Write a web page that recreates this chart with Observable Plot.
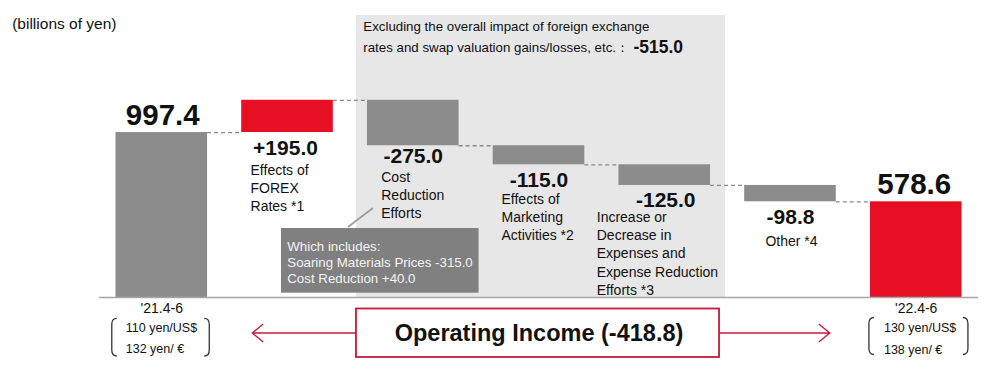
<!DOCTYPE html>
<html><head><meta charset="utf-8">
<script src="https://cdn.jsdelivr.net/npm/d3@7"></script>
<script src="https://cdn.jsdelivr.net/npm/@observablehq/plot@0.6"></script>
<style>
html,body{margin:0;padding:0;background:#fff;}
#chart{width:1005px;height:370px;}
</style></head><body><div id="chart"></div>
<script>
// ---------- data ----------
const steps = ["start", "forex", "cost", "marketing", "expenses", "other", "end"];
const startValue = 997.4;
const changes = [195.0, -275.0, -115.0, -125.0, -98.8];
const endValue = 578.6;
const valueLabels = ["997.4", "+195.0", "-275.0", "-115.0", "-125.0", "-98.8", "578.6"];
const descriptions = ["", "Effects of\nFOREX\nRates *1", "Cost\nReduction\nEfforts", "Effects of\nMarketing\nActivities *2",
  "Increase or\nDecrease in\nExpenses and\nExpense Reduction\nEfforts *3", "Other *4", ""];
const periods = ["'21.4-6", "'22.4-6"];
const fxRates = ["110 yen/US$\n132 yen/ €", "130 yen/US$\n138 yen/ €"];
const excludingNote = "Excluding the overall impact of foreign exchange\nrates and swap valuation gains/losses, etc.：";
const excludingValue = "-515.0";
const costBreakdown = "Which includes:\nSoaring Materials Prices -315.0\nCost Reduction +40.0";
const operatingIncomeLabel = "Operating Income (-418.8)";
const unitLabel = "(billions of yen)";

// ---------- layout / style ----------
const W = 1005, H = 370;
const L = {marginLeft: 99, marginRight: 27, marginTop: 0, marginBottom: 73, paddingInner: 0.2715, paddingOuter: 0.131, pxPerUnit: 0.1654};
const yMax = (H - L.marginTop - L.marginBottom) / L.pxPerUnit;
const FONT = "'Liberation Sans', Arial, Helvetica, sans-serif";
const GRAY = "#8c8c8c", RED = "#e60f23", SHADE = "#e7e7e7", INK = "#111", FRAME_RED = "#c8193c";

// ---------- waterfall table ----------
let running = startValue;
const bars = steps.map((s, i) => {
  if (i === 0) return {step: s, y1: 0, y2: startValue, total: true, fill: GRAY, label: valueLabels[i], desc: descriptions[i]};
  if (i === steps.length - 1) return {step: s, y1: 0, y2: endValue, total: true, fill: RED, label: valueLabels[i], desc: descriptions[i]};
  const c = changes[i - 1], from = running; running += c;
  return {step: s, y1: from, y2: running, total: false, fill: c > 0 ? RED : GRAY, label: valueLabels[i], desc: descriptions[i]};
});
const connectors = bars.slice(0, -1).map((b, i) => ({from: b.step, to: steps[i + 1], level: b.y2}));

const step = (W - L.marginLeft - L.marginRight) / (steps.length - L.paddingInner + 2 * L.paddingOuter);
const bw = step * (1 - L.paddingInner);

// label offsets (pixels) relative to band centre and bar end
const valueOff = {start: [1, -16.5], forex: [-2, 16], cost: [0, 11], marketing: [0, 15.7], expenses: [1, 14.6], other: [0, 15.2], end: [-2, -17.5]};
const descOff = {forex: [-37, 29.6, "start"], cost: [-32, 23.1, "start"], marketing: [-37.5, 26.1, "start"], expenses: [-68, 24.1, "start"], other: [1, 31.1, "middle"]};

const marks = [];
// shaded region
marks.push(Plot.barY(["cost"], {x: d => d, y1: 0, y2: yMax, insetTop: 15, insetLeft: -11, insetRight: -18, fill: SHADE}));
marks.push(Plot.barY(["marketing"], {x: d => d, y1: 0, y2: yMax, insetTop: 15, insetLeft: -18, insetRight: -18, fill: SHADE}));
marks.push(Plot.barY(["expenses"], {x: d => d, y1: 0, y2: yMax, insetTop: 15, insetLeft: -18, insetRight: -15, fill: SHADE}));
// bars
marks.push(Plot.barY(bars, {x: "step", y1: "y1", y2: "y2", fill: "fill"}));
// connectors
marks.push(Plot.ruleY(connectors, {x1: "from", x2: "to", y: "level", insetLeft: bw, insetRight: bw, stroke: "#8a8a8a", strokeWidth: 1.3, strokeDasharray: "4,3"}));
// baseline
marks.push(Plot.ruleY([0], {stroke: "#a6a6a6", strokeWidth: 1.6}));

// value labels
for (const b of bars) {
  const [dx, dy] = valueOff[b.step];
  marks.push(Plot.text([b], {x: "step", y: d => d.total ? d.y2 : Math.min(d.y1, d.y2), text: "label", dx, dy, lineAnchor: "middle",
    fontSize: b.total ? 29.5 : 21, fontWeight: "bold", fill: INK}));
  if (b.desc) {
    const [ddx, ddy, anchor] = descOff[b.step];
    marks.push(Plot.text([b], {x: "step", y: d => Math.min(d.y1, d.y2), text: "desc", dx: ddx, dy: ddy, textAnchor: anchor, lineAnchor: "top",
      lineHeight: 1.29, fontSize: 14, fill: INK}));
  }
}
// period labels and fx rates
marks.push(Plot.text([periods[0]], {x: () => "start", frameAnchor: "bottom", dy: 11, lineAnchor: "middle", fontSize: 14, fill: INK}));
marks.push(Plot.text([periods[1]], {x: () => "end", frameAnchor: "bottom", dy: 11, lineAnchor: "middle", fontSize: 14, fill: INK}));
marks.push(Plot.text([fxRates[0]], {x: () => "start", frameAnchor: "bottom", dx: -36, dy: 18.8, textAnchor: "start", lineAnchor: "top", lineHeight: 1.73, fontSize: 12.5, fill: INK}));
marks.push(Plot.text([fxRates[1]], {x: () => "end", frameAnchor: "bottom", dx: -32.3, dy: 19.4, textAnchor: "start", lineAnchor: "top", lineHeight: 1.73, fontSize: 12.5, fill: INK}));
// shaded note
marks.push(Plot.text([excludingNote], {x: () => "cost", frameAnchor: "top", dx: -50, dy: 15.1, textAnchor: "start", lineAnchor: "top", lineHeight: 1.6, fontSize: 13.3, fill: INK}));
marks.push(Plot.text([excludingValue], {x: () => "expenses", frameAnchor: "top", dx: -6.5, dy: 46.5, lineAnchor: "middle", fontSize: 17.5, fontWeight: "bold", fill: INK}));
// unit
marks.push(Plot.text([unitLabel], {frameAnchor: "top-left", dx: 11.7 - L.marginLeft, dy: 24, textAnchor: "start", lineAnchor: "middle", fontSize: 15.5, fill: INK}));

// annotation shapes drawn through the scales
function shapes(index, scales) {
  const x = scales.x, y = scales.y;
  const band = x.bandwidth ? x.bandwidth() : 0;
  const base = y(0);
  const g = d3.create("svg:g");
  // callout box for cost breakdown
  const cx0 = x("cost");
  g.append("line").attr("x1", cx0 - 19).attr("y1", base - 70).attr("x2", cx0 + 6).attr("y2", base - 89)
    .attr("stroke", "#9a9a9a").attr("stroke-width", 1.6);
  g.append("rect").attr("x", cx0 - 86).attr("y", base - 69).attr("width", band + 106).attr("height", 64.7).attr("fill", "#808080");
  // operating income box and arrows
  const bx1 = x("cost") - 11, bx2 = x("expenses") + band + 9, by = base + 36;
  g.append("rect").attr("x", bx1).attr("y", base + 11.5).attr("width", bx2 - bx1).attr("height", 48.5)
    .attr("fill", "#fff").attr("stroke", FRAME_RED).attr("stroke-width", 1.8);
  const lt = x("forex") + 11, rt = x("other") + band - 6;
  const arrowPath = `M${lt},${by}H${bx1}M${lt + 11},${by - 9}L${lt},${by}L${lt + 11},${by + 9}` +
    `M${bx2},${by}H${rt}M${rt - 11},${by - 9}L${rt},${by}L${rt - 11},${by + 9}`;
  g.append("path").attr("d", arrowPath).attr("fill", "none").attr("stroke", FRAME_RED).attr("stroke-width", 1.3);
  // brackets around fx rates
  const bracket = (xl, xr, y0, y1) => {
    const h = 5;
    return `M${xl + h},${y0}Q${xl},${y0} ${xl},${y0 + 6}V${y1 - 6}Q${xl},${y1} ${xl + h},${y1}` +
      `M${xr - h},${y0}Q${xr},${y0} ${xr},${y0 + 6}V${y1 - 6}Q${xr},${y1} ${xr - h},${y1}`;
  };
  const sx = x("start") + band / 2 - 36, ex = x("end") + band / 2 - 32.3;
  g.append("path").attr("d", bracket(sx - 13.5, sx + 84, base + 21.3, base + 59) + bracket(ex - 14.5, ex + 84.5, base + 20.5, base + 57.5))
    .attr("fill", "none").attr("stroke", "#333").attr("stroke-width", 1.3);
  return g.node();
}
marks.push(shapes);
// texts on top of annotation shapes
marks.push(Plot.text([costBreakdown], {x: () => "cost", frameAnchor: "bottom", dx: -126, dy: -57.6, textAnchor: "start", lineAnchor: "top", lineHeight: 1.2, fontSize: 13.3, fill: "#f4f4f4"}));
marks.push(Plot.text([operatingIncomeLabel], {x: () => "marketing", frameAnchor: "bottom", dy: 36, lineAnchor: "middle", fontSize: 23.5, fontWeight: "bold", fill: INK}));

const chart = Plot.plot({
  width: W, height: H,
  marginLeft: L.marginLeft, marginRight: L.marginRight, marginTop: L.marginTop, marginBottom: L.marginBottom,
  style: {fontFamily: FONT, background: "#fff", overflow: "visible"},
  x: {domain: steps, paddingInner: L.paddingInner, paddingOuter: L.paddingOuter, round: false, axis: null},
  y: {domain: [0, yMax], axis: null},
  marks
});
document.getElementById("chart").appendChild(chart);
</script>
</body></html>
